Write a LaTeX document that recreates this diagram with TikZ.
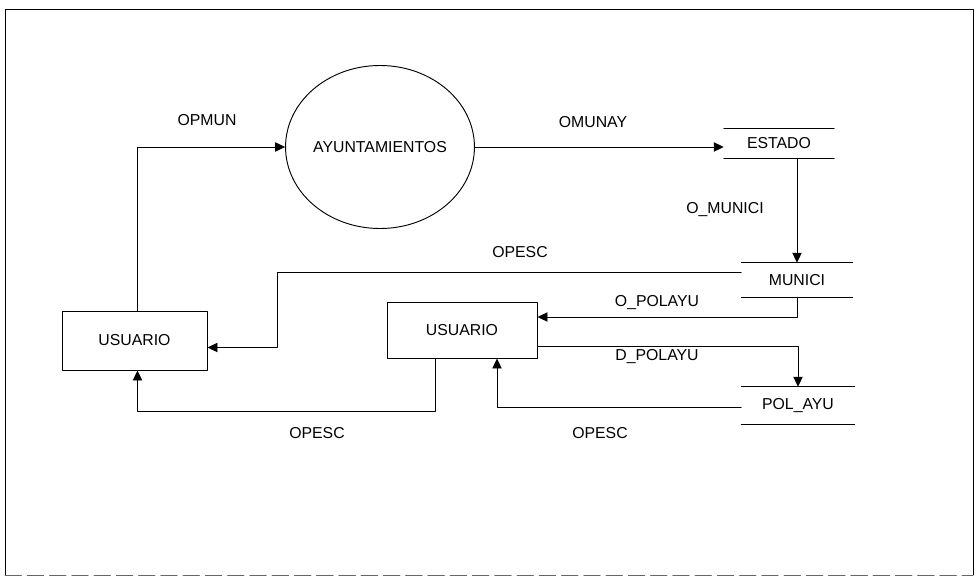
\documentclass[tikz,border=0pt]{standalone}
\usepackage{fontspec}
\setmainfont{Liberation Sans}
\usetikzlibrary{arrows.meta,positioning,calc,shapes.geometric}

\begin{document}
\begin{tikzpicture}[x=0.03cm,y=-0.03cm,line cap=round,line join=round,
  font=\fontsize{13.5}{16}\selectfont,
  flow/.style={line width=.8pt,-{Triangle[length=3mm,width=2.8mm]}},
  plain/.style={line width=.8pt},
  proc/.style={draw,line width=.8pt,inner sep=0pt},
  store/.style={inner sep=0pt},
  lbl/.style={inner sep=1pt}]
\path[use as bounding box] (0,0) rectangle (977,577);
% frame
\draw[plain] (5,575) -- (5,9) -- (973,9) -- (973,575);
\draw[plain,black!60,dash pattern=on 14pt off 5pt] (5,575) -- (973,575);

% process, entities and stores
\node[proc,ellipse,minimum width=5.28cm,minimum height=4.89cm] (ayunt) at (380,147) {AYUNTAMIENTOS};
\node[proc,minimum width=4.35cm,minimum height=1.77cm] (usr1) at (134.5,340.5) {USUARIO};
\node[proc,minimum width=4.5cm,minimum height=1.68cm] (usr2) at (462,330) {USUARIO};
\node[store,minimum width=3.3cm,minimum height=0.87cm] (estado) at (779,143.5) {ESTADO};
\node[store,minimum width=3.33cm,minimum height=1.02cm] (munici) at (797,280) {MUNICI};
\node[store,minimum width=3.39cm,minimum height=1.11cm] (polayu) at (798,405.5) {POL\_AYU};
\foreach \s in {estado,munici,polayu}{
  \draw[plain] (\s.north west) -- (\s.north east);
  \draw[plain] (\s.south west) -- (\s.south east);
}

% flows
\draw[flow] ($(usr1.north)+(3,0)$) |- (ayunt);
\draw[flow] (ayunt.east) -- (ayunt.east -| estado.west);
\draw[flow] (munici.north |- estado.south) -- (munici.north);
\draw[flow] ($(munici.west)+(0,-8)$) -| ($(usr1.east)+(70,0)$) |- ($(usr1.east)+(0,7)$);
\draw[flow] (munici.south) |- ($(usr2.east)+(0,-13)$);
\draw[flow] ($(usr2.east)+(0,16)$) -| (polayu.north);
\draw[flow] ($(polayu.west)+(0,2)$) -| ($(usr2.south)+(35,0)$);
\draw[flow] ($(usr2.south)+(-27,0)$) |- ($(usr1.south)+(3,41)$) -- ($(usr1.south)+(3,0)$);

% labels
\node[lbl] (opmun) at (207,120) {OPMUN};
\node[lbl] (omunay) at (593,122) {OMUNAY};
\node[lbl] (omunici) at (725,210) {O\_MUNICI};
\node[lbl] (opesc1) at (520,252) {OPESC};
\node[lbl] (opolayu) at (657,303) {O\_POLAYU};
\node[lbl] (dpolayu) at (657,357) {D\_POLAYU};
\node[lbl] (opesc2) at (317,433) {OPESC};
\node[lbl] (opesc3) at (600,433) {OPESC};
\end{tikzpicture}
\end{document}
